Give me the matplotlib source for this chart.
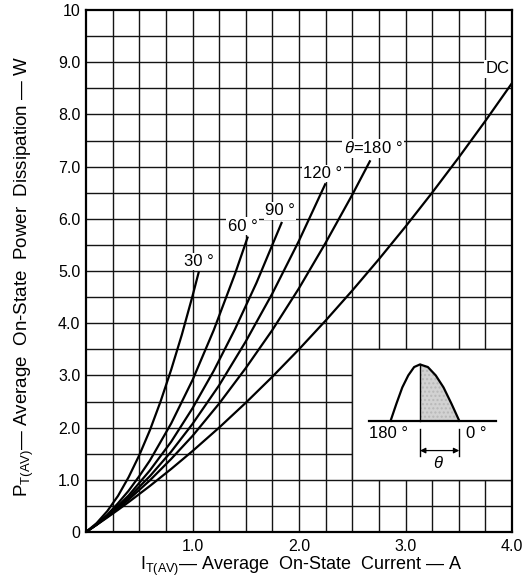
import matplotlib
matplotlib.use("Agg")
import matplotlib.pyplot as plt
from matplotlib.patches import Rectangle

plt.rcParams['font.family'] = ['Liberation Sans', 'DejaVu Sans']
plt.rcParams['mathtext.fontset'] = 'custom'
plt.rcParams['mathtext.rm'] = 'Liberation Sans'
plt.rcParams['mathtext.it'] = 'Liberation Sans:italic'

# curves: average current (A) -> power dissipation (W)
i_30 = [0, 0.1, 0.2, 0.3, 0.4, 0.5, 0.6, 0.7, 0.8, 0.9, 1.0, 1.06]
p_30 = [0, 0.17, 0.40, 0.69, 1.05, 1.47, 1.95, 2.50, 3.11, 3.78, 4.52, 4.99]

i_60 = [0, 0.1, 0.2, 0.3, 0.4, 0.5, 0.6, 0.8, 1.0, 1.2, 1.4, 1.52]
p_60 = [0, 0.15, 0.33, 0.55, 0.79, 1.07, 1.37, 2.08, 2.91, 3.87, 4.95, 5.66]

i_90 = [0, 0.1, 0.2, 0.3, 0.4, 0.6, 0.8, 1.0, 1.2, 1.4, 1.6, 1.84]
p_90 = [0, 0.145, 0.31, 0.50, 0.70, 1.18, 1.73, 2.37, 3.09, 3.89, 4.77, 5.94]

i_120 = [0, 0.1, 0.2, 0.3, 0.4, 0.6, 0.8, 1.0, 1.25, 1.5, 1.75, 2.0, 2.25]
p_120 = [0, 0.142, 0.30, 0.47, 0.66, 1.07, 1.54, 2.07, 2.81, 3.65, 4.57, 5.58, 6.68]

i_180 = [0, 0.1, 0.2, 0.3, 0.4, 0.6, 0.8, 1.0, 1.25, 1.5, 1.75, 2.0, 2.25, 2.5, 2.67]
p_180 = [0, 0.14, 0.29, 0.45, 0.62, 0.99, 1.40, 1.84, 2.46, 3.14, 3.87, 4.67, 5.54, 6.46, 7.12]

i_dc = [0, 0.1, 0.2, 0.3, 0.4, 0.6, 0.8, 1.0, 1.25, 1.5, 1.75, 2.0, 2.25, 2.5,
        2.75, 3.0, 3.25, 3.5, 3.75, 4.0]
p_dc = [0, 0.137, 0.278, 0.423, 0.572, 0.882, 1.208, 1.55, 2.0, 2.475, 2.975, 3.5,
        4.05, 4.625, 5.225, 5.85, 6.5, 7.175, 7.875, 8.6]

curve_labels = ["30 °", "60 °", "90 °", "120 °", r"$\theta$=180 °", "DC"]
label_pos = [(0.92, 5.18), (1.33, 5.86), (1.68, 6.15), (2.04, 6.87), (2.42, 7.35), (3.75, 8.87)]

x_ticks = [1.0, 2.0, 3.0, 4.0]
x_ticklabels = ["1.0", "2.0", "3.0", "4.0"]
y_ticks = [0, 1, 2, 3, 4, 5, 6, 7, 8, 9, 10]
y_ticklabels = ["0", "1.0", "2.0", "3.0", "4.0", "5.0", "6.0", "7.0", "8.0", "9.0", "10"]

# conduction waveform sketch in the inset
wave_x = [2.86, 2.915, 2.97, 3.026, 3.081, 3.136, 3.21, 3.284, 3.357, 3.431, 3.505]
wave_y = [2.13, 2.46, 2.77, 3.00, 3.16, 3.21, 3.16, 3.00, 2.77, 2.46, 2.13]

fig = plt.figure(figsize=(5.23, 5.84), dpi=100)
ax = fig.add_axes([86/523, 1-532/584, 426/523, 522/584])

grid_col = '#141414'
for gx in [k*0.25 for k in range(1, 16)]:
    ax.axvline(gx, color=grid_col, lw=1.0, zorder=1)
for gy in [k*0.5 for k in range(1, 20)]:
    ax.axhline(gy, color=grid_col, lw=1.0, zorder=1)

# blank area for the inset
ax.add_patch(Rectangle((2.5, 1.0), 1.5, 2.5, facecolor='white', edgecolor=grid_col,
                       lw=1.0, zorder=2))

for xs, ys in [(i_30, p_30), (i_60, p_60), (i_90, p_90), (i_120, p_120), (i_180, p_180), (i_dc, p_dc)]:
    ax.plot(xs, ys, color='black', lw=1.6, zorder=3, solid_capstyle='butt')

for txt, (lx, ly) in zip(curve_labels, label_pos):
    ax.text(lx, ly, txt, fontsize=12, ha='left', va='center', zorder=4,
            bbox=dict(facecolor='white', edgecolor='none', pad=1.0))

# inset drawing
ax.plot([2.66, 3.85], [2.13, 2.13], color='black', lw=1.6, zorder=3)
ax.plot(wave_x, wave_y, color='black', lw=1.6, zorder=3)
ax.fill_between(wave_x[5:], 2.13, wave_y[5:], color='#d2d2d2', hatch='....', edgecolor='#b8b8b8', lw=0, zorder=2.5)
ax.plot([3.136, 3.136], [2.13, 3.21], color='black', lw=1.0, zorder=3)
ax.plot([3.136, 3.136], [1.98, 1.45], color='black', lw=1.0, zorder=3)
ax.plot([3.505, 3.505], [1.98, 1.45], color='black', lw=1.0, zorder=3)
ax.annotate('', xy=(3.136, 1.56), xytext=(3.505, 1.56),
            arrowprops=dict(arrowstyle='<|-|>', color='black', lw=0.9,
                            mutation_scale=8, shrinkA=0, shrinkB=0), zorder=3)
ax.text(3.31, 1.32, r"$\theta$", fontsize=12, ha='center', va='center', zorder=4)
ax.text(2.66, 1.89, "180 °", fontsize=12, ha='left', va='center', zorder=4)
ax.text(3.57, 1.89, "0 °", fontsize=12, ha='left', va='center', zorder=4)

ax.set_xlim(0, 4.0)
ax.set_ylim(0, 10)
ax.set_xticks(x_ticks)
ax.set_xticklabels(x_ticklabels)
ax.set_yticks(y_ticks)
ax.set_yticklabels(y_ticklabels)
ax.tick_params(length=0, labelsize=11.5)
ax.tick_params(axis='x', pad=5)
ax.tick_params(axis='y', pad=4)
for s in ax.spines.values():
    s.set_linewidth(1.6)
    s.set_zorder(5)

fig.text(301.7/523, 1-566.7/584, r"I$_{\mathrm{T(AV)}}$— Average  On-State  Current — A",
         fontsize=13, ha='center', va='center')
fig.text(24/523, 1-276/584, r"P$_{\mathrm{T(AV)}}$— Average  On-State  Power  Dissipation — W",
         fontsize=13.5, ha='center', va='center', rotation=90)

fig.savefig("out.png", dpi=100)
